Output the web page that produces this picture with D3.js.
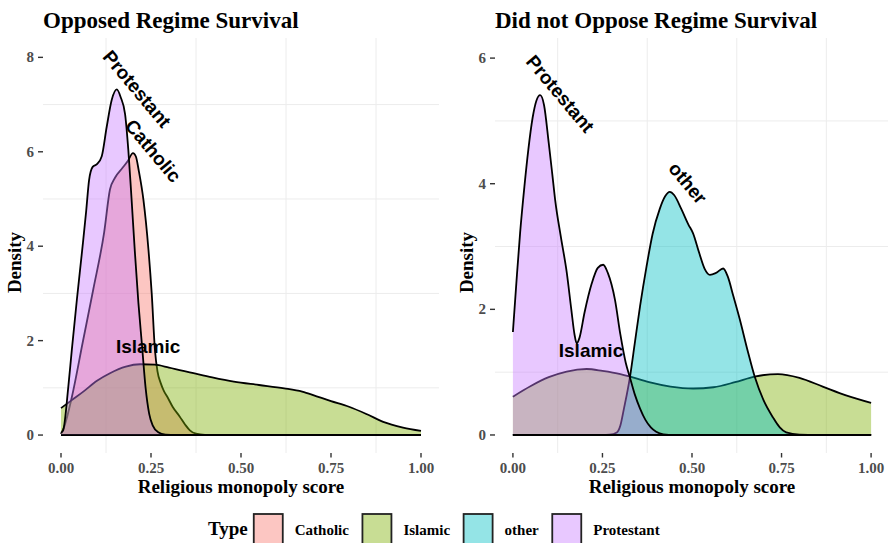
<!DOCTYPE html>
<html>
<head>
<meta charset="utf-8">
<script src="https://cdn.jsdelivr.net/npm/d3@7"></script>
<style>
  html, body { margin: 0; padding: 0; background: #ffffff; }
  svg { display: block; }
</style>
</head>
<body>
<svg id="chart" width="888" height="543"></svg>
<script>
// ---- data ----------------------------------------------------------------
const typeNames = ["Catholic", "Islamic", "other", "Protestant"];
const typeColors = ["#F8766D", "#7CAE00", "#00BFC4", "#C77CFF"];

const xTicks = [0, 0.25, 0.5, 0.75, 1];
const xTickLabels = ["0.00", "0.25", "0.50", "0.75", "1.00"];
const xGrid = [0.125, 0.375, 0.625, 0.875];

const opposedYTicks = [0, 2, 4, 6, 8];
const opposedYGrid = [1, 3, 5, 7];
const notOpposedYTicks = [0, 2, 4, 6];
const notOpposedYGrid = [1, 3, 5];

const panelTitles = ["Opposed Regime Survival", "Did not Oppose Regime Survival"];

// density estimates, [score, density]
const opposedCatholic = [
  [0, 0.02], [0.01, 0.2], [0.03, 0.8], [0.06, 1.95], [0.09, 3.1], [0.12, 4.3],
  [0.136, 5.2], [0.15, 5.45], [0.17, 5.65], [0.185, 5.8], [0.2, 5.97], [0.208, 5.9],
  [0.216, 5.6], [0.229, 4.98], [0.243, 3.92], [0.252, 3.0], [0.261, 1.8], [0.268, 1.35],
  [0.277, 1.1], [0.286, 0.93], [0.296, 0.8], [0.31, 0.6], [0.33, 0.39], [0.345, 0.22],
  [0.358, 0.1], [0.375, 0.03], [0.4, 0.005], [0.5, 0], [1, 0]
];
const opposedIslamic = [
  [0, 0.57], [0.03, 0.74], [0.062, 0.92], [0.1, 1.15], [0.136, 1.31], [0.18, 1.45],
  [0.22, 1.5], [0.26, 1.49], [0.3, 1.43], [0.368, 1.31], [0.42, 1.22], [0.48, 1.13],
  [0.55, 1.06], [0.62, 0.99], [0.67, 0.92], [0.71, 0.82], [0.75, 0.72], [0.8, 0.6],
  [0.85, 0.44], [0.895, 0.28], [0.95, 0.16], [1, 0.09]
];
const opposedProtestant = [
  [0, 0.05], [0.006, 0.1], [0.02, 1.0], [0.03, 1.8], [0.044, 2.86], [0.06, 4.0],
  [0.07, 4.75], [0.078, 5.4], [0.088, 5.68], [0.1, 5.74], [0.113, 5.9], [0.127, 6.53],
  [0.141, 7.1], [0.155, 7.32], [0.166, 7.15], [0.178, 6.8], [0.187, 6.04], [0.196, 5.0],
  [0.205, 3.9], [0.215, 2.8], [0.225, 1.9], [0.235, 1.0], [0.245, 0.45], [0.255, 0.2],
  [0.27, 0.06], [0.29, 0.01], [0.32, 0], [1, 0]
];

const notOpposedIslamic = [
  [0, 0.61], [0.05, 0.78], [0.1, 0.92], [0.15, 1.01], [0.206, 1.05], [0.25, 1.02],
  [0.3, 0.97], [0.327, 0.93], [0.38, 0.84], [0.44, 0.77], [0.503, 0.74], [0.56, 0.76],
  [0.62, 0.84], [0.675, 0.93], [0.74, 0.97], [0.8, 0.91], [0.865, 0.77], [0.93, 0.63],
  [1, 0.51]
];
const notOpposedOther = [
  [0, 0], [0.25, 0], [0.27, 0.005], [0.29, 0.04], [0.3, 0.15], [0.31, 0.42],
  [0.327, 0.93], [0.34, 1.45], [0.355, 2.05], [0.373, 2.68], [0.39, 3.2], [0.41, 3.6],
  [0.425, 3.8], [0.438, 3.87], [0.45, 3.82], [0.47, 3.6], [0.49, 3.35], [0.503, 3.21],
  [0.52, 2.9], [0.535, 2.65], [0.55, 2.55], [0.567, 2.58], [0.587, 2.65], [0.6, 2.52],
  [0.615, 2.22], [0.633, 1.85], [0.655, 1.35], [0.675, 0.93], [0.7, 0.55], [0.726, 0.28],
  [0.745, 0.12], [0.763, 0.04], [0.8, 0.005], [0.85, 0], [1, 0]
];
const notOpposedProtestant = [
  [0, 1.64], [0.01, 2.45], [0.02, 3.21], [0.032, 3.95], [0.043, 4.54], [0.055, 5.05],
  [0.066, 5.33], [0.076, 5.41], [0.087, 5.25], [0.1, 4.65], [0.11, 4.15], [0.118, 3.74],
  [0.134, 3.15], [0.15, 2.6], [0.163, 2.0], [0.172, 1.6], [0.178, 1.46], [0.186, 1.55],
  [0.2, 1.95], [0.22, 2.41], [0.237, 2.66], [0.252, 2.71], [0.265, 2.58], [0.285, 2.15],
  [0.3, 1.6], [0.315, 1.15], [0.326, 0.93], [0.34, 0.65], [0.355, 0.42], [0.37, 0.24],
  [0.385, 0.12], [0.4, 0.05], [0.42, 0.01], [0.45, 0], [1, 0]
];

// direct labels: group, score, density
const opposedLabels = [
  ["Protestant", 0.211, 7.33],
  ["Catholic", 0.256, 6.02],
  ["Islamic", 0.242, 1.88]
];
const notOpposedLabels = [
  ["Protestant", 0.132, 5.43],
  ["other", 0.488, 4.01],
  ["Islamic", 0.218, 1.35]
];

// ---- drawing -------------------------------------------------------------
const serif = "'Liberation Serif', 'Times New Roman', serif";
const sans = "'Liberation Sans', Arial, sans-serif";
const fillOpacity = 0.42;
const color = d3.scaleOrdinal().domain(typeNames).range(typeColors);

const svg = d3.select("#chart");

const panels = [
  {
    title: panelTitles[0], left: 43, right: 439, top: 38, bottom: 453,
    yDomain: [-0.38, 8.41], yTicks: opposedYTicks, yGrid: opposedYGrid,
    series: [["Catholic", opposedCatholic], ["Islamic", opposedIslamic], ["Protestant", opposedProtestant]],
    labels: opposedLabels
  },
  {
    title: panelTitles[1], left: 495, right: 889, top: 38, bottom: 453,
    yDomain: [-0.287, 6.32], yTicks: notOpposedYTicks, yGrid: notOpposedYGrid,
    series: [["Islamic", notOpposedIslamic], ["other", notOpposedOther], ["Protestant", notOpposedProtestant]],
    labels: notOpposedLabels
  }
];

panels.forEach((p, i) => {
  const x = d3.scaleLinear().domain([-0.05, 1.05]).range([p.left, p.right]);
  const y = d3.scaleLinear().domain(p.yDomain).range([p.bottom, p.top]);
  const g = svg.append("g");

  const clipId = "clip" + i;
  svg.append("clipPath").attr("id", clipId)
    .append("rect").attr("x", p.left).attr("y", p.top)
    .attr("width", p.right - p.left).attr("height", p.bottom - p.top);

  // grid
  g.append("g").selectAll("line").data(xGrid).join("line")
    .attr("x1", d => x(d)).attr("x2", d => x(d))
    .attr("y1", p.top).attr("y2", p.bottom)
    .attr("stroke", "#ececec").attr("stroke-width", 1);
  g.append("g").selectAll("line").data(p.yGrid).join("line")
    .attr("y1", d => y(d)).attr("y2", d => y(d))
    .attr("x1", p.left).attr("x2", p.right)
    .attr("stroke", "#ececec").attr("stroke-width", 1);

  // densities
  const plot = g.append("g").attr("clip-path", `url(#${clipId})`);
  const area = d3.area().x(d => x(d[0])).y0(y(0)).y1(d => y(d[1])).curve(d3.curveMonotoneX);
  const upper = d3.line().x(d => x(d[0])).y(d => y(d[1])).curve(d3.curveMonotoneX);
  p.series.forEach(([name, pts]) => {
    plot.append("path").datum(pts).attr("d", area)
      .attr("fill", color(name)).attr("fill-opacity", fillOpacity).attr("stroke", "none");
    plot.append("path").datum(pts).attr("d", upper)
      .attr("fill", "none").attr("stroke", "#000").attr("stroke-width", 1.8)
      .attr("stroke-linejoin", "round");
    plot.append("line")
      .attr("x1", x(pts[0][0])).attr("x2", x(pts[pts.length - 1][0]))
      .attr("y1", y(0)).attr("y2", y(0))
      .attr("stroke", "#000").attr("stroke-width", 1.8);
  });

  // direct labels
  g.append("g").selectAll("text").data(p.labels).join("text")
    .attr("transform", d => `translate(${x(d[1])},${y(d[2])}) rotate(${d[0] === "Islamic" ? 0 : 50})`)
    .attr("text-anchor", "middle").attr("dominant-baseline", "central")
    .attr("font-family", sans).attr("font-weight", "bold").attr("font-size", 19)
    .attr("fill", "#000").text(d => d[0]);

  // x axis
  const xa = g.append("g");
  xa.selectAll("line").data(xTicks).join("line")
    .attr("x1", d => x(d)).attr("x2", d => x(d))
    .attr("y1", p.bottom).attr("y2", p.bottom + 4.5)
    .attr("stroke", "#333").attr("stroke-width", 1.4);
  xa.selectAll("text").data(xTicks).join("text")
    .attr("x", d => x(d)).attr("y", 473)
    .attr("text-anchor", "middle")
    .attr("font-family", serif).attr("font-weight", "bold").attr("font-size", 15)
    .attr("fill", "#4d4d4d").text((d, k) => xTickLabels[k]);

  // y axis
  const ya = g.append("g");
  ya.selectAll("line").data(p.yTicks).join("line")
    .attr("x1", p.left - 5).attr("x2", p.left)
    .attr("y1", d => y(d)).attr("y2", d => y(d))
    .attr("stroke", "#333").attr("stroke-width", 1.4);
  ya.selectAll("text").data(p.yTicks).join("text")
    .attr("x", p.left - 9).attr("y", d => y(d))
    .attr("text-anchor", "end").attr("dominant-baseline", "central")
    .attr("font-family", serif).attr("font-weight", "bold").attr("font-size", 15)
    .attr("fill", "#4d4d4d").text(d => d);

  // titles
  g.append("text").attr("x", p.left).attr("y", 28)
    .attr("font-family", serif).attr("font-weight", "bold").attr("font-size", 23)
    .attr("fill", "#000").text(p.title);
  g.append("text").attr("x", (p.left + p.right) / 2).attr("y", 493)
    .attr("text-anchor", "middle")
    .attr("font-family", serif).attr("font-weight", "bold").attr("font-size", 19)
    .attr("fill", "#000").text("Religious monopoly score");
  g.append("text")
    .attr("transform", `translate(${p.left - 22},${(p.top + p.bottom) / 2 + 17}) rotate(-90)`)
    .attr("text-anchor", "middle")
    .attr("font-family", serif).attr("font-weight", "bold").attr("font-size", 19)
    .attr("fill", "#000").text("Density");
});

// legend
const legend = svg.append("g");
let lx = 208;
const ly = 535;
const title = legend.append("text").attr("x", lx).attr("y", ly)
  .attr("font-family", serif).attr("font-weight", "bold").attr("font-size", 19)
  .attr("fill", "#000").text("Type");
lx += title.node().getComputedTextLength() + 6;
typeNames.forEach(name => {
  legend.append("rect").attr("x", lx).attr("y", 514).attr("width", 29).attr("height", 34)
    .attr("fill", color(name)).attr("fill-opacity", fillOpacity)
    .attr("stroke", "#222").attr("stroke-width", 1.8);
  lx += 29 + 12;
  const t = legend.append("text").attr("x", lx).attr("y", ly)
    .attr("font-family", serif).attr("font-weight", "bold").attr("font-size", 15)
    .attr("fill", "#000").text(name);
  lx += t.node().getComputedTextLength() + 13.5;
});
</script>
</body>
</html>
